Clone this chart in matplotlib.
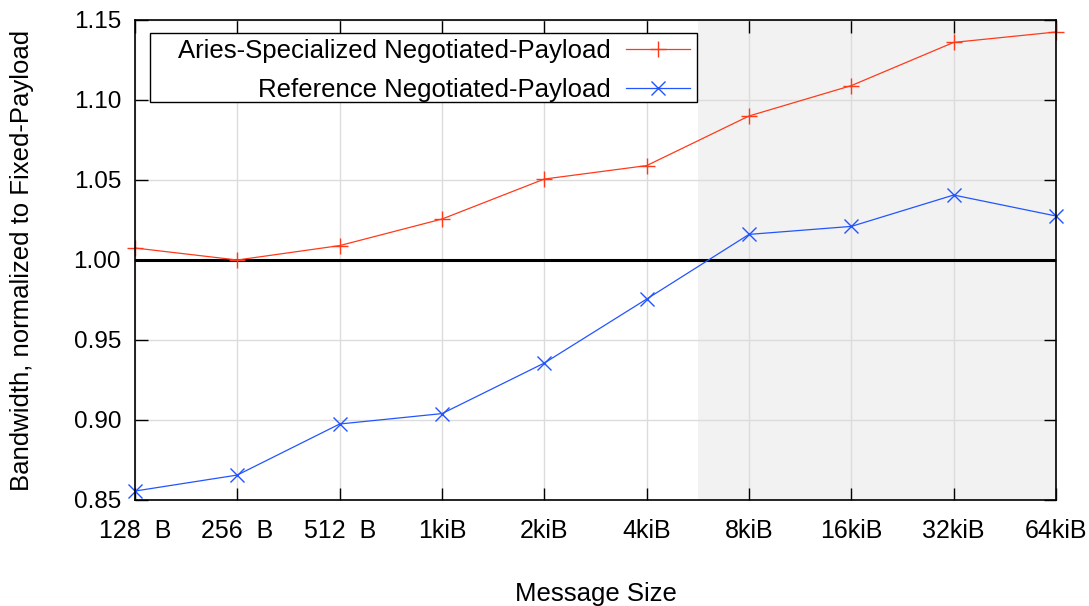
import matplotlib
matplotlib.use("Agg")
import matplotlib.pyplot as plt
from matplotlib.patches import Rectangle

categories = ["128  B", "256  B", "512  B", "1kiB", "2kiB", "4kiB",
              "8kiB", "16kiB", "32kiB", "64kiB"]
aries = [1.0075, 1.000, 1.009, 1.0256, 1.0506, 1.059, 1.090, 1.109, 1.136, 1.1425]
reference = [0.8556, 0.8656, 0.8975, 0.904, 0.9356, 0.9756, 1.016, 1.021, 1.0406, 1.0275]
yticks = [0.85, 0.90, 0.95, 1.00, 1.05, 1.10, 1.15]
shade_start = 5.5

plt.rcParams['font.family'] = ['Liberation Sans', 'DejaVu Sans']

fig = plt.figure(figsize=(10.89, 6.06), dpi=100)
ax = fig.add_axes([135/1089, 1-500/606, (1056-135)/1089, 480/606])

x = list(range(len(categories)))
ax.axvspan(shade_start, len(categories) - 1, color='#f2f2f2', zorder=0, lw=0)
ax.grid(True, color='#dcdcdc', linewidth=1.0)
ax.set_axisbelow(True)
ax.axhline(1.0, color='black', linewidth=2.2, zorder=3)

ax.plot(x, aries, color='#ff3a1a', linewidth=0.9, marker='+', markersize=11,
        markeredgewidth=1.0, label='Aries-Specialized Negotiated-Payload', zorder=4, clip_on=False)
ax.plot(x, reference, color='#2255ff', linewidth=0.9, marker='x', markersize=10,
        markeredgewidth=1.0, label='Reference Negotiated-Payload', zorder=4, clip_on=False)

ax.set_xlim(0, len(categories) - 1)
ax.set_ylim(0.85, 1.15)
ax.set_xticks(x)
ax.set_xticklabels(categories)
ax.set_yticks(yticks)
ax.set_yticklabels([f"{v:.2f}" for v in yticks])
ax.tick_params(direction='in', length=9, width=1.0, top=True, right=True,
               labelsize=17.5)
ax.tick_params(axis='x', pad=14, labelsize=18)
ax.tick_params(axis='y', pad=10)
for s in ax.spines.values():
    s.set_linewidth(1.2)
    s.set_zorder(5)

ax.set_xlabel("Message Size", fontsize=18.5, va='center')
ax.xaxis.set_label_coords(0.5, (500 - 594) / 480)
ax.set_ylabel("Bandwidth, normalized to Fixed-Payload", fontsize=18.5, va='center')
ax.yaxis.set_label_coords((22 - 135) / 921, 0.5)

# legend frame box
box = Rectangle(((150 - 135) / 921, (500 - 102) / 480), 547 / 921, 69 / 480,
                transform=ax.transAxes, facecolor='white', edgecolor='black',
                linewidth=1.0, zorder=6)
ax.add_patch(box)

leg = ax.legend(loc='upper right', bbox_to_anchor=((690 - 135) / 921, (500 - 39) / 480),
                markerfirst=False, fontsize=18.5, frameon=False, handlelength=2.5,
                handletextpad=0.6, borderaxespad=0, borderpad=0, labelspacing=0.6)
leg._legend_box.align = "right"
leg.set_zorder(7)

fig.savefig("out.png", dpi=100)
